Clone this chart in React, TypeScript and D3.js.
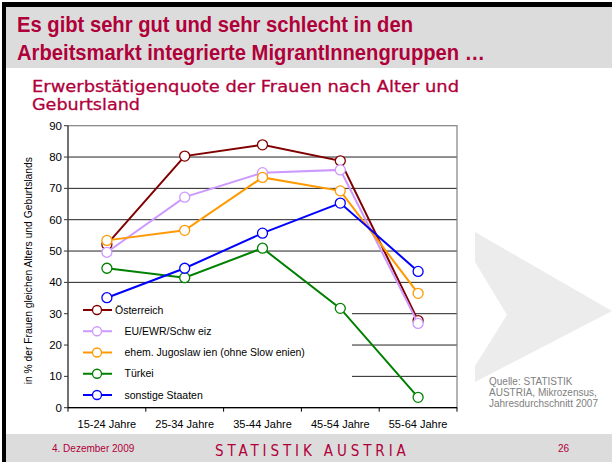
import * as d3 from 'd3'

// Data (Erwerbstätigenquote der Frauen, 2007)
const categories = ['15-24 Jahre', '25-34 Jahre', '35-44 Jahre', '45-54 Jahre', '55-64 Jahre']
const seriesNames = [
  'Österreich',
  'EU/EWR/Schw eiz',
  'ehem. Jugoslaw ien (ohne Slow enien)',
  'Türkei',
  'sonstige Staaten',
]
const oesterreich = [52.1, 80.3, 83.9, 78.8, 27.8]
const euEwr = [49.6, 67.2, 75.0, 75.9, 26.9]
const jugoslawien = [53.4, 56.6, 73.5, 69.2, 36.5]
const tuerkei = [44.5, 41.5, 50.9, 31.7, 3.3]
const sonstige = [35.1, 44.5, 55.7, 65.3, 43.5]
const yTicks = [0, 10, 20, 30, 40, 50, 60, 70, 80, 90]

const colors = ['#800000', '#cc99ff', '#ff9900', '#008000', '#0000ff']
const seriesValues = [oesterreich, euEwr, jugoslawien, tuerkei, sonstige]

const crimson = '#b0003a'
const W = 612
const H = 462

export default function App() {
  const plot = { left: 68, right: 457, top: 125.7, bottom: 407.7 }
  const legendRight = 352

  const x = d3.scaleBand<string>().domain(categories).range([plot.left, plot.right])
  const y = d3.scaleLinear().domain([0, 90]).range([plot.bottom, plot.top])
  const cx = (c: string) => (x(c) ?? 0) + x.bandwidth() / 2

  const line = d3.line<number>()
    .x((_, i) => cx(categories[i]))
    .y(d => y(d))

  const series = seriesNames.map((name, i) => ({ name, values: seriesValues[i], color: colors[i] }))
  const edges = [...categories.map(c => x(c) ?? 0), plot.right]

  const legendY = d3.scaleLinear().domain([0, 4]).range([310, 395])

  return (
    <svg width={W} height={H} style={{ position: 'absolute', left: 0, top: 0, background: '#fff' }}
      fontFamily="Arial, 'Liberation Sans', sans-serif">
      {/* slide frame */}
      <rect x={0} y={0} width={W} height={H} fill="#fff" />
      <rect x={2} y={2} width={W} height={5} fill="#000" />
      <rect x={2} y={2} width={4} height={H} fill="#000" />
      <rect x={6} y={7} width={W} height={61} fill="#dcdcdc" />
      <rect x={6} y={434} width={W} height={28} fill="#dcdcdc" />

      {/* watermark */}
      <path d="M475,232 L612,311 L475,382 L475,366 L507,315 L475,262 Z" fill="#ececec" />

      {/* headings */}
      <text x={17} y={32} fontSize={21.5} fontWeight="bold" fill={crimson} textLength={396} lengthAdjust="spacingAndGlyphs">
        Es gibt sehr gut und sehr schlecht in den
      </text>
      <text x={17} y={60} fontSize={21.5} fontWeight="bold" fill={crimson} textLength={468} lengthAdjust="spacingAndGlyphs">
        Arbeitsmarkt integrierte MigrantInnengruppen …
      </text>
      <text x={32} y={92} fontSize={16} fill={crimson} fontFamily="'DejaVu Sans', Verdana, sans-serif"
        stroke={crimson} strokeWidth={0.3} textLength={427} lengthAdjust="spacingAndGlyphs">
        Erwerbstätigenquote der Frauen nach Alter und
      </text>
      <text x={32} y={110} fontSize={16} fill={crimson} fontFamily="'DejaVu Sans', Verdana, sans-serif"
        stroke={crimson} strokeWidth={0.3} textLength={108} lengthAdjust="spacingAndGlyphs">
        Geburtsland
      </text>

      {/* gridlines */}
      {yTicks.filter(t => t > 0 && t < 90).map(t => (
        <line key={t} x1={t <= 30 ? legendRight : plot.left} x2={plot.right}
          y1={y(t)} y2={y(t)} stroke="#222" strokeWidth={1} />
      ))}
      <rect x={plot.left} y={plot.top} width={plot.right - plot.left} height={plot.bottom - plot.top}
        fill="none" stroke="#808080" strokeWidth={1.2} />

      {/* axes */}
      <line x1={plot.left} x2={plot.left} y1={plot.top} y2={plot.bottom} stroke="#333" strokeWidth={1} />
      {yTicks.map(t => (
        <g key={t}>
          <line x1={plot.left - 4} x2={plot.left} y1={y(t)} y2={y(t)} stroke="#333" />
          <text x={plot.left - 6} y={y(t)} dy="0.35em" textAnchor="end" fontSize={11.5} fill="#000">{t}</text>
        </g>
      ))}
      <line x1={plot.left} x2={plot.right} y1={plot.bottom} y2={plot.bottom} stroke="#000" strokeWidth={1.2} />
      {edges.map((e, i) => (
        <line key={i} x1={e} x2={e} y1={plot.bottom} y2={plot.bottom + 4} stroke="#000" />
      ))}
      {categories.map(c => (
        <text key={c} x={cx(c)} y={428} textAnchor="middle" fontSize={11} fill="#000">{c}</text>
      ))}
      <text transform={`translate(32,${(plot.top + plot.bottom) / 2 + 4}) rotate(-90)`} textAnchor="middle"
        fontSize={10.3} fill="#000">
        in % der Frauen gleichen Alters und Geburtslands
      </text>

      {/* series */}
      {series.map(s => (
        <g key={s.name}>
          <path d={line(s.values) ?? ''} fill="none" stroke={s.color} strokeWidth={2} />
          {s.values.map((v, i) => (
            <circle key={i} cx={cx(categories[i])} cy={y(v)} r={5} fill="#fff" stroke={s.color} strokeWidth={1.3} />
          ))}
        </g>
      ))}

      {/* legend */}
      {series.map((s, i) => (
        <g key={s.name} transform={`translate(0,${legendY(i)})`}>
          <line x1={83} x2={112} y1={0} y2={0} stroke={s.color} strokeWidth={2} />
          <circle cx={97} cy={0} r={4.5} fill="#fff" stroke={s.color} strokeWidth={1.3} />
          <text x={i === 0 ? 115 : 124.5} y={0} dy="0.35em" fontSize={10.5} fill="#000">{s.name}</text>
        </g>
      ))}

      {/* source */}
      <g fontSize={10} fill="#808080">
        <text x={489} y={385}>Quelle: STATISTIK</text>
        <text x={489} y={396}>AUSTRIA, Mikrozensus,</text>
        <text x={489} y={407}>Jahresdurchschnitt 2007</text>
      </g>

      {/* footer */}
      <text x={52} y={452} fontSize={10} fill={crimson}>4. Dezember 2009</text>
      <text x={215} y={456} fontSize={15} fill={crimson}
        fontFamily="'Liberation Sans Narrow', 'DejaVu Sans Condensed', Arial, sans-serif"
        letterSpacing={3.9}>STATISTIK AUSTRIA</text>
      <text x={558} y={452} fontSize={10} fill={crimson}>26</text>
    </svg>
  )
}
